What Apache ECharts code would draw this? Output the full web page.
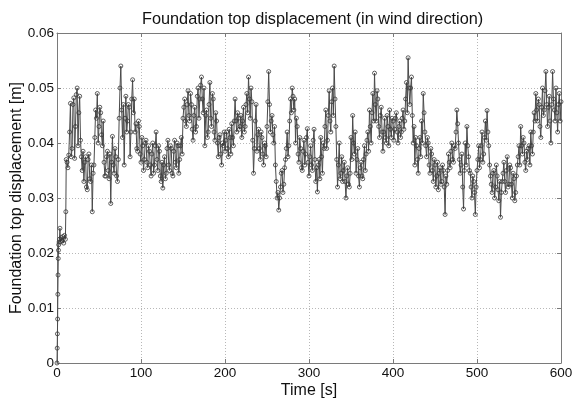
<!DOCTYPE html>
<html>
<head>
<meta charset="utf-8">
<script src="https://cdn.jsdelivr.net/npm/echarts@6/dist/echarts.min.js"></script>
<style>html,body{margin:0;padding:0;background:#fff;}#c{width:572px;height:400px;}</style>
</head>
<body>
<div id="c"></div>
<script>
// Early samples (start-up transient): time [s] and displacement [m]
var earlyTime = [0,0.25,0.5,0.75,1,1.25,1.5,1.75,2,2.5,3,3.5,4,5,6,7,8,9,10,10.5,11];
var earlyDisp = [0,0.0027,0.0053,0.008,0.0125,0.016,0.019,0.0205,0.0215,0.022,0.0225,0.0245,0.022,0.0228,0.0222,0.023,0.0218,0.0232,0.0225,0.0275,0.037];
// Displacement at even seconds, t = 12, 14, ..., 600 s [m]
var dispEven = [
 0.0365,0.0378,0.0472,0.0390,0.0482,0.0430,0.0500,0.0455,0.0405,0.0350,
 0.0330,0.0375,0.0315,0.0380,0.0330,0.0275,0.0360,0.0460,0.0490,0.0430,
 0.0455,0.0395,0.0365,0.0340,0.0385,0.0335,0.0290,0.0412,0.0345,0.0375,
 0.0330,0.0445,0.0540,0.0410,0.0360,0.0485,0.0440,0.0465,0.0420,0.0515,
 0.0480,0.0435,0.0385,0.0430,0.0365,0.0395,0.0370,0.0405,0.0355,0.0385,
 0.0340,0.0400,0.0360,0.0420,0.0350,0.0385,0.0330,0.0318,0.0375,0.0345,
 0.0405,0.0350,0.0390,0.0340,0.0405,0.0355,0.0395,0.0370,0.0410,0.0445,
 0.0480,0.0430,0.0495,0.0440,0.0470,0.0405,0.0465,0.0430,0.0500,0.0480,
 0.0520,0.0455,0.0395,0.0460,0.0420,0.0510,0.0430,0.0480,0.0405,0.0440,
 0.0375,0.0415,0.0360,0.0395,0.0385,0.0420,0.0375,0.0410,0.0435,0.0395,
 0.0480,0.0420,0.0445,0.0430,0.0410,0.0465,0.0430,0.0490,0.0520,0.0445,
 0.0475,0.0345,0.0440,0.0385,0.0425,0.0370,0.0410,0.0360,0.0395,0.0430,
 0.0530,0.0420,0.0450,0.0400,0.0360,0.0300,0.0278,0.0320,0.0350,0.0325,
 0.0370,0.0420,0.0395,0.0480,0.0500,0.0460,0.0400,0.0430,0.0365,0.0390,
 0.0350,0.0405,0.0380,0.0426,0.0340,0.0395,0.0350,0.0425,0.0330,0.0311,
 0.0370,0.0410,0.0345,0.0390,0.0460,0.0405,0.0495,0.0420,0.0500,0.0540,
 0.0430,0.0320,0.0400,0.0345,0.0330,0.0365,0.0300,0.0355,0.0320,0.0410,
 0.0450,0.0380,0.0345,0.0390,0.0320,0.0365,0.0335,0.0395,0.0380,0.0420,
 0.0460,0.0400,0.0490,0.0527,0.0440,0.0480,0.0410,0.0465,0.0385,0.0445,
 0.0400,0.0430,0.0460,0.0410,0.0440,0.0425,0.0455,0.0400,0.0440,0.0420,
 0.0460,0.0440,0.0510,0.0555,0.0470,0.0520,0.0400,0.0360,0.0395,0.0345,
 0.0410,0.0440,0.0490,0.0420,0.0375,0.0400,0.0345,0.0380,0.0330,0.0360,
 0.0340,0.0315,0.0355,0.0330,0.0350,0.0270,0.0325,0.0380,0.0355,0.0400,
 0.0365,0.0390,0.0460,0.0400,0.0345,0.0380,0.0280,0.0400,0.0430,0.0375,
 0.0345,0.0300,0.0330,0.0270,0.0350,0.0395,0.0370,0.0420,0.0380,0.0440,
 0.0459,0.0395,0.0340,0.0310,0.0350,0.0320,0.0340,0.0295,0.0265,0.0330,
 0.0365,0.0310,0.0375,0.0325,0.0355,0.0300,0.0335,0.0310,0.0360,0.0395,
 0.0430,0.0380,0.0400,0.0350,0.0370,0.0395,0.0420,0.0380,0.0455,0.0490,
 0.0440,0.0470,0.0410,0.0500,0.0460,0.0530,0.0430,0.0485,0.0400,0.0530,
 0.0460,0.0500,0.0420,0.0490,0.0475
];
// Displacement at odd seconds, t = 13, 15, ..., 599 s [m]
var dispOdd = [
 0.0355,0.0420,0.0375,0.0470,0.0372,0.0488,0.0395,0.0485,0.0375,0.0385,
 0.0365,0.0320,0.0370,0.0335,0.0360,0.0345,0.0410,0.0445,0.0400,0.0465,
 0.0415,0.0440,0.0340,0.0375,0.0350,0.0380,0.0365,0.0360,0.0390,0.0340,
 0.0370,0.0500,0.0460,0.0470,0.0445,0.0420,0.0470,0.0375,0.0480,0.0455,
 0.0420,0.0390,0.0440,0.0380,0.0410,0.0350,0.0400,0.0365,0.0395,0.0360,
 0.0380,0.0345,0.0395,0.0370,0.0395,0.0340,0.0365,0.0360,0.0335,0.0390,
 0.0360,0.0395,0.0345,0.0385,0.0365,0.0400,0.0345,0.0395,0.0380,0.0465,
 0.0440,0.0470,0.0450,0.0490,0.0425,0.0450,0.0420,0.0485,0.0445,0.0505,
 0.0480,0.0500,0.0450,0.0410,0.0470,0.0445,0.0490,0.0420,0.0455,0.0400,
 0.0410,0.0380,0.0400,0.0420,0.0405,0.0390,0.0425,0.0380,0.0410,0.0440,
 0.0440,0.0455,0.0425,0.0450,0.0440,0.0420,0.0470,0.0455,0.0480,0.0500,
 0.0405,0.0390,0.0470,0.0415,0.0390,0.0420,0.0380,0.0400,0.0375,0.0475,
 0.0470,0.0440,0.0415,0.0430,0.0330,0.0310,0.0300,0.0345,0.0310,0.0355,
 0.0390,0.0375,0.0440,0.0455,0.0485,0.0480,0.0445,0.0380,0.0410,0.0355,
 0.0385,0.0360,0.0410,0.0365,0.0375,0.0360,0.0405,0.0370,0.0355,0.0360,
 0.0335,0.0375,0.0400,0.0430,0.0390,0.0450,0.0440,0.0475,0.0450,0.0480,
 0.0370,0.0360,0.0335,0.0375,0.0350,0.0330,0.0340,0.0325,0.0345,0.0370,
 0.0400,0.0420,0.0370,0.0340,0.0355,0.0340,0.0370,0.0350,0.0405,0.0385,
 0.0430,0.0455,0.0440,0.0470,0.0495,0.0430,0.0450,0.0420,0.0420,0.0410,
 0.0450,0.0395,0.0425,0.0445,0.0405,0.0445,0.0420,0.0430,0.0410,0.0445,
 0.0425,0.0480,0.0455,0.0500,0.0500,0.0450,0.0430,0.0410,0.0370,0.0390,
 0.0375,0.0400,0.0455,0.0395,0.0410,0.0360,0.0390,0.0350,0.0370,0.0320,
 0.0365,0.0345,0.0325,0.0360,0.0320,0.0340,0.0350,0.0365,0.0385,0.0370,
 0.0395,0.0420,0.0435,0.0370,0.0360,0.0320,0.0350,0.0360,0.0395,0.0350,
 0.0320,0.0340,0.0310,0.0320,0.0370,0.0355,0.0395,0.0365,0.0410,0.0405,
 0.0420,0.0360,0.0325,0.0345,0.0300,0.0360,0.0315,0.0330,0.0310,0.0345,
 0.0330,0.0350,0.0320,0.0360,0.0325,0.0345,0.0295,0.0340,0.0375,0.0360,
 0.0395,0.0410,0.0365,0.0385,0.0390,0.0360,0.0395,0.0420,0.0440,0.0460,
 0.0480,0.0430,0.0465,0.0450,0.0495,0.0470,0.0465,0.0440,0.0470,0.0480,
 0.0440,0.0455,0.0470,0.0440
];
var xTicks = [0,100,200,300,400,500,600];
var yTicks = [0,0.01,0.02,0.03,0.04,0.05,0.06];

var seriesData = [];
for (var i = 0; i < earlyTime.length; i++) seriesData.push([earlyTime[i], earlyDisp[i]]);
for (var j = 0; j < dispEven.length; j++) {
  seriesData.push([12 + 2 * j, dispEven[j]]);
  if (j < dispOdd.length) seriesData.push([13 + 2 * j, dispOdd[j]]);
}

var font = 'Liberation Sans, Arial, sans-serif';
var axisCol = '#7a7a7a';
function xAxisCfg(pos, main) {
  return {
    type: 'value', position: pos, min: xTicks[0], max: xTicks[xTicks.length - 1], interval: 100,
    name: main ? 'Time [s]' : '', nameLocation: 'middle', nameGap: 20, nameMoveOverlap: false,
    nameTextStyle: {fontFamily: font, fontSize: 16, color: '#111'},
    axisLine: {show: true, onZero: false, lineStyle: {color: axisCol, width: 1}},
    axisTick: {show: true, inside: true, length: 4, lineStyle: {color: axisCol}},
    axisLabel: {show: main, fontFamily: font, fontSize: 13.5, color: '#111', margin: 3},
    splitLine: {show: main, lineStyle: {type: [1, 2], color: '#b8b8b8', width: 1}}
  };
}
function yAxisCfg(pos, main) {
  return {
    type: 'value', position: pos, min: yTicks[0], max: yTicks[yTicks.length - 1], interval: 0.01,
    name: main ? 'Foundation top displacement [m]' : '', nameLocation: 'middle', nameGap: 32, nameMoveOverlap: false,
    nameTextStyle: {fontFamily: font, fontSize: 16, color: '#111'},
    axisLine: {show: true, onZero: false, lineStyle: {color: axisCol, width: 1}},
    axisTick: {show: true, inside: true, length: 4, lineStyle: {color: axisCol}},
    axisLabel: {show: main, fontFamily: font, fontSize: 13.5, color: '#111', margin: 3,
      formatter: function (v) { return String(Math.round(v * 100) / 100); }},
    splitLine: {show: main, lineStyle: {type: [1, 2], color: '#b8b8b8', width: 1}}
  };
}

var chart = echarts.init(document.getElementById('c'), null, {renderer: 'canvas'});
chart.setOption({
  backgroundColor: '#fff',
  animation: false,
  title: {
    text: 'Foundation top displacement (in wind direction)',
    left: 137, top: 7,
    textStyle: {fontFamily: font, fontSize: 16.3, fontWeight: 'normal', color: '#111'}
  },
  grid: {left: 57, right: 11, top: 33, bottom: 37, containLabel: false, outerBoundsMode: 'none'},
  xAxis: [xAxisCfg('bottom', true), xAxisCfg('top', false)],
  yAxis: [yAxisCfg('left', true), yAxisCfg('right', false)],
  series: [{
    type: 'line',
    data: seriesData,
    xAxisIndex: 0, yAxisIndex: 0,
    showAllSymbol: true,
    symbol: 'circle',
    symbolSize: 4,
    lineStyle: {color: '#4a4a4a', width: 1},
    itemStyle: {color: 'rgba(0,0,0,0)', borderColor: '#3a3a3a', borderWidth: 0.8},
    emphasis: {disabled: true}
  }]
});
</script>
</body>
</html>
